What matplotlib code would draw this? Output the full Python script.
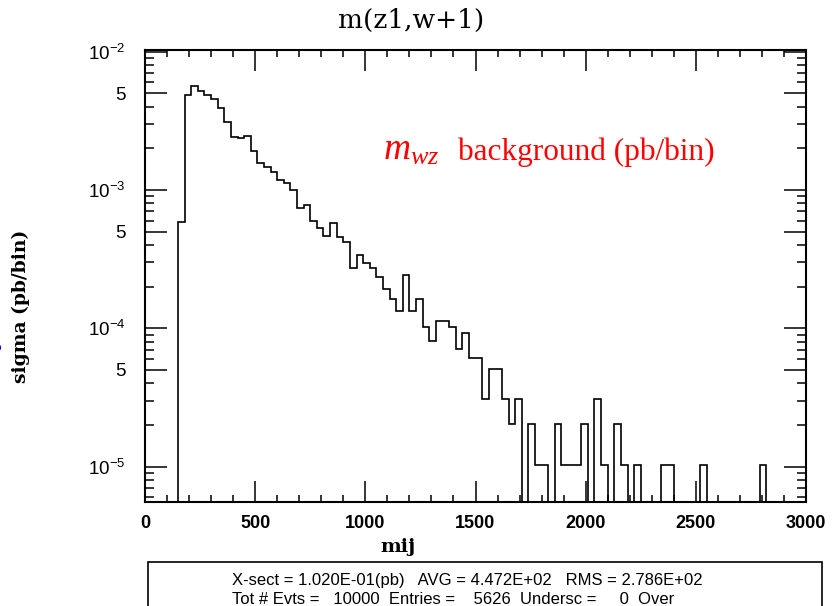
import numpy as np
import matplotlib
matplotlib.use('Agg')
import matplotlib.pyplot as plt
from matplotlib.patches import Rectangle
from matplotlib.ticker import FixedLocator, NullFormatter, MultipleLocator

plt.rcParams['mathtext.fontset'] = 'custom'
plt.rcParams['mathtext.rm'] = 'Liberation Sans'
plt.rcParams['mathtext.it'] = 'Liberation Serif:italic'

# datos: eventos por bin (ancho 30), primer bin empieza en 150
inicio = 150
ancho_bin = 30
eventos = [58, 478, 555, 510, 478, 447, 383, 303, 238, 232,
           243, 189, 153, 143, 133, 116, 110, 98, 73, 76,
           59, 52, 46, 57, 45, 41, 27, 33, 29, 27,
           23, 19, 16, 13, 24, 13, 16, 10, 8, 11,
           11, 10, 7, 9, 6, 6, 3, 5, 5, 3,
           2, 3, 0, 2, 1, 1, 0, 2, 1, 1,
           1, 2, 0, 3, 1, 0, 2, 1, 0, 1,
           0, 0, 0, 1, 1, 0, 0, 0, 0, 1,
           0, 0, 0, 0, 0, 0, 0, 0, 1]
xsect = 1.020e-01
tot_evts = 10000

ytick_vals = [1e-5, 5e-5, 1e-4, 5e-4, 1e-3, 5e-3, 1e-2]
ytick_labels = [r'$\mathregular{10^{-5}}$', '5', r'$\mathregular{10^{-4}}$', '5',
                r'$\mathregular{10^{-3}}$', '5', r'$\mathregular{10^{-2}}$']

sigma = np.array(eventos) * xsect / tot_evts
bordes = inicio + ancho_bin * np.arange(len(eventos) + 1)

fig = plt.figure(figsize=(8.39, 6.06), dpi=100)
ax = fig.add_axes([145/839, 104/606, 661/839, 452/606])

ax.stairs(sigma, bordes, baseline=0, color='black', linewidth=1.2)
ax.set_yscale('log')
ax.set_xlim(0, 3000)
ax.set_ylim(5.55e-6, 1.03e-2)

ax.xaxis.set_major_locator(MultipleLocator(500))
ax.xaxis.set_minor_locator(MultipleLocator(100))
ax.set_yticks(ytick_vals)
ax.set_yticklabels(ytick_labels)
menores = [m * 10.0**d for d in (-6, -5, -4, -3) for m in (2, 3, 4, 6, 7, 8, 9)]
ax.yaxis.set_minor_locator(FixedLocator(menores))
ax.yaxis.set_minor_formatter(NullFormatter())

ax.tick_params(axis='both', which='both', direction='in', top=True, right=True, width=1.1)
ax.tick_params(axis='x', which='major', length=15, pad=9)
ax.tick_params(axis='x', which='minor', length=5)
ax.tick_params(axis='y', which='major', length=16, pad=14)
ax.tick_params(axis='y', which='minor', length=6.3)
for s in ax.spines.values():
    s.set_linewidth(1.5)

for t in ax.get_xticklabels():
    t.set_fontfamily('Liberation Sans')
    t.set_fontweight('bold')
    t.set_fontsize(13)
for t in ax.get_yticklabels():
    t.set_fontfamily('Liberation Sans')
    t.set_fontsize(13.5)

fig.text(398/839, 1 - 547/606, 'mij', family='DejaVu Serif', fontweight='bold',
         fontsize=14, ha='center', va='center')
fig.text(21/839, 1 - 306/606, 'sigma (pb/bin)', family='DejaVu Serif', fontweight='bold',
         fontsize=13.5, rotation=90, ha='center', va='center')
fig.text(411/839, 1 - 20/606, 'm(z1,w+1)', family='DejaVu Serif', fontsize=19,
         ha='center', va='center')

# texto rojo
fig.text(383/839, 1 - 160/606, r'$m_{wz}$', fontsize=27, color='red', ha='left', va='baseline')
fig.text(458/839, 1 - 160/606, 'background (pb/bin)', family='Liberation Serif',
         fontsize=22.5, color='red', ha='left', va='baseline')

# marca azul cortada en el borde
fig.text(-0.004, 1 - 353/606, '?', color='blue', fontsize=14, fontweight='bold',
         ha='center', va='center')

# caja inferior con estadisticas
caja = Rectangle((148/839, -0.05), 674/839, 0.05 + 44/606, transform=fig.transFigure,
                 fill=False, edgecolor='black', linewidth=1.2, clip_on=False)
fig.patches.append(caja)
fuente_caja = ['Liberation Sans Narrow', 'Liberation Sans']
fig.text(232/839, 1 - 580/606, 'X-sect = 1.020E-01(pb)   AVG = 4.472E+02   RMS = 2.786E+02',
         family=fuente_caja, fontsize=12, ha='left', va='center')
fig.text(232/839, 1 - 599/606, 'Tot # Evts =   10000  Entries =    5626  Undersc =     0  Over',
         family=fuente_caja, fontsize=12, ha='left', va='center')

plt.savefig('out.png', dpi=100)
